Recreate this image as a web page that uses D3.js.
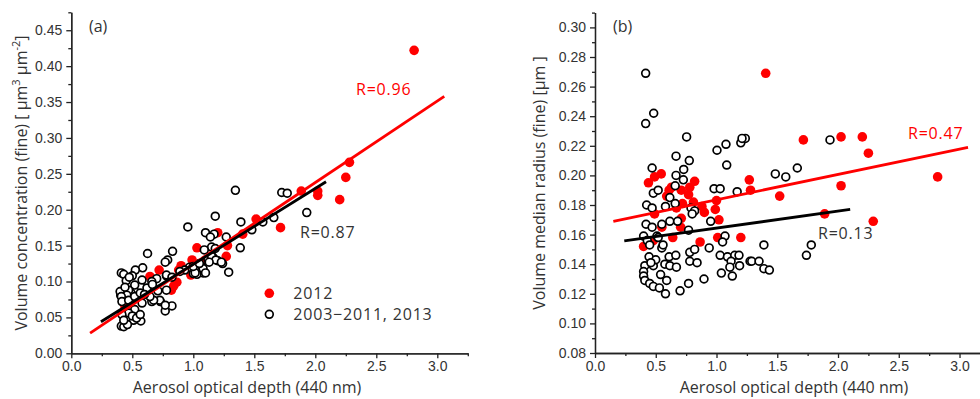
<!DOCTYPE html>
<html>
<head>
<meta charset="utf-8">
<script src="https://cdn.jsdelivr.net/npm/d3@7"></script>
<style>
  body { margin: 0; background: #fff; }
  svg text { font-family: "Open Sans", sans-serif; fill: #333; }
  .tick text { font-family: "Liberation Sans", Arial, sans-serif; font-size: 14px; fill: #333; }
  .domain, .tick line { stroke: #222; stroke-width: 1.3; }
</style>
</head>
<body>
<div id="chart"></div>
<script>
// ---- shared axis ticks ----
const xTicks = [0, 0.5, 1.0, 1.5, 2.0, 2.5, 3.0];
const xMinor = [0.25, 0.75, 1.25, 1.75, 2.25, 2.75, 3.25];
const yTicksA = [0, 0.05, 0.10, 0.15, 0.20, 0.25, 0.30, 0.35, 0.40, 0.45];
const yMinorA = [0.025, 0.075, 0.125, 0.175, 0.225, 0.275, 0.325, 0.375, 0.425, 0.475];
const yTicksB = [0.08, 0.10, 0.12, 0.14, 0.16, 0.18, 0.20, 0.22, 0.24, 0.26, 0.28, 0.30];
const yMinorB = [0.09, 0.11, 0.13, 0.15, 0.17, 0.19, 0.21, 0.23, 0.25, 0.27, 0.29, 0.31];

// ---- panel (a): AOD vs fine volume concentration ----
const red2012A = [
  [2.81, 0.422], [2.28, 0.266], [2.25, 0.245], [2.20, 0.214], [2.02, 0.226], [2.02, 0.220],
  [1.885, 0.226], [1.715, 0.175], [1.515, 0.187], [1.405, 0.166], [1.28, 0.150], [1.27, 0.135],
  [1.20, 0.168], [1.03, 0.147], [0.99, 0.130], [0.90, 0.122], [0.88, 0.116], [0.98, 0.109],
  [0.865, 0.099], [0.82, 0.088], [0.72, 0.116], [0.645, 0.107], [0.84, 0.094], [1.10, 0.130],
  [0.60, 0.090], [0.50, 0.075], [0.44, 0.065]
];
const otherYearsA = [
  [1.345, 0.227], [1.725, 0.224], [1.77, 0.223], [1.93, 0.196], [1.66, 0.189], [1.57, 0.183],
  [1.48, 0.172], [1.39, 0.183], [1.385, 0.147], [1.29, 0.113], [1.27, 0.162], [1.24, 0.125],
  [1.18, 0.191], [1.17, 0.166], [1.10, 0.168], [1.14, 0.162], [1.15, 0.148], [1.09, 0.144],
  [1.07, 0.121], [1.08, 0.112], [1.03, 0.110], [1.00, 0.111], [0.955, 0.176], [1.16, 0.134],
  [1.20, 0.129], [1.12, 0.131], [0.97, 0.120], [0.83, 0.142], [0.79, 0.130], [0.77, 0.127],
  [0.78, 0.108], [0.78, 0.088], [0.77, 0.059], [0.825, 0.066], [0.73, 0.072], [0.625, 0.139],
  [0.585, 0.119], [0.525, 0.116], [0.50, 0.108], [0.41, 0.112], [0.43, 0.110], [0.45, 0.101],
  [0.57, 0.093], [0.70, 0.104], [0.66, 0.100], [0.66, 0.093], [0.66, 0.072], [0.57, 0.045],
  [0.51, 0.046], [0.41, 0.038], [0.43, 0.037], [0.46, 0.040], [0.405, 0.081], [0.49, 0.084],
  [0.93, 0.116], [1.015, 0.112], [1.08, 0.118], [1.10, 0.112], [1.15, 0.135], [1.185, 0.130],
  [1.23, 0.127], [1.18, 0.146], [0.475, 0.106], [0.52, 0.095], [0.58, 0.102], [0.78, 0.109],
  [0.47, 0.088], [0.455, 0.081], [0.40, 0.086], [0.41, 0.079], [0.415, 0.072], [0.47, 0.074],
  [0.52, 0.079], [0.565, 0.084], [0.62, 0.091], [0.665, 0.096], [0.71, 0.087], [0.725, 0.074],
  [0.77, 0.067], [0.58, 0.070], [0.52, 0.061], [0.47, 0.056], [0.415, 0.054], [0.43, 0.046],
  [0.50, 0.052], [0.535, 0.049], [0.565, 0.054], [0.675, 0.074], [0.645, 0.079], [0.825, 0.106],
  [0.89, 0.114], [1.00, 0.121], [1.05, 0.125], [1.13, 0.127], [0.60, 0.082], [0.44, 0.092]
];
const fitRedA = [[0.154, 0.028], [3.057, 0.358]];
const fitBlackA = [[0.243, 0.044], [2.088, 0.239]];

// ---- panel (b): AOD vs fine volume median radius ----
const red2012B = [
  [1.405, 0.269], [1.715, 0.224], [2.025, 0.226], [2.20, 0.226], [2.25, 0.215], [2.82, 0.199],
  [2.025, 0.193], [2.29, 0.169], [1.89, 0.174], [1.52, 0.186], [1.27, 0.197], [1.28, 0.190],
  [1.20, 0.158], [1.01, 0.158], [1.00, 0.183], [0.99, 0.177], [1.02, 0.170], [0.865, 0.155],
  [0.90, 0.175], [0.88, 0.179], [0.82, 0.196], [0.64, 0.158], [0.705, 0.165], [0.71, 0.171],
  [0.545, 0.201], [0.49, 0.199], [0.44, 0.195], [0.40, 0.152], [0.55, 0.165], [0.61, 0.190],
  [0.63, 0.192], [0.71, 0.190], [0.78, 0.192], [0.77, 0.187], [0.81, 0.182], [0.59, 0.186],
  [0.67, 0.178], [0.72, 0.181], [0.49, 0.174], [0.48, 0.156]
];
const otherYearsB = [
  [0.417, 0.269], [0.483, 0.242], [0.417, 0.235], [0.754, 0.226], [0.667, 0.213], [0.776, 0.210],
  [0.73, 0.204], [0.47, 0.205], [1.004, 0.217], [1.078, 0.221], [1.084, 0.207], [1.20, 0.222],
  [1.237, 0.225], [1.21, 0.225], [1.934, 0.224], [1.665, 0.205], [1.57, 0.199], [1.484, 0.201],
  [0.667, 0.200], [0.727, 0.197], [0.66, 0.193], [0.98, 0.191], [1.03, 0.191], [1.17, 0.189],
  [0.48, 0.188], [0.52, 0.190], [0.425, 0.180], [0.47, 0.178], [0.58, 0.179], [0.616, 0.185],
  [0.66, 0.181], [0.79, 0.178], [0.82, 0.176], [0.80, 0.174], [0.952, 0.169], [0.42, 0.167],
  [0.47, 0.165], [0.55, 0.167], [0.616, 0.169], [0.68, 0.169], [0.77, 0.163], [1.07, 0.159],
  [1.05, 0.155], [0.40, 0.159], [0.51, 0.159], [0.43, 0.156], [0.45, 0.153], [0.55, 0.151],
  [0.56, 0.153], [0.78, 0.148], [0.82, 0.150], [0.94, 0.151], [1.39, 0.153], [1.78, 0.153],
  [1.74, 0.146], [0.445, 0.145], [0.61, 0.145], [0.665, 0.146], [1.03, 0.146], [1.09, 0.145],
  [1.15, 0.146], [1.185, 0.146], [1.276, 0.142], [1.29, 0.142], [1.35, 0.142], [1.39, 0.137],
  [1.435, 0.136], [0.78, 0.142], [0.84, 0.141], [0.41, 0.139], [0.48, 0.139], [0.575, 0.140],
  [0.616, 0.139], [0.67, 0.138], [1.12, 0.142], [1.11, 0.138], [1.19, 0.139], [0.40, 0.135],
  [0.54, 0.133], [1.04, 0.134], [1.13, 0.132], [0.897, 0.130], [0.40, 0.132], [0.41, 0.129],
  [0.45, 0.127], [0.48, 0.125], [0.53, 0.124], [0.59, 0.129], [0.58, 0.120], [0.70, 0.122],
  [0.77, 0.127], [0.50, 0.143], [0.46, 0.141], [0.52, 0.158]
];
const fitRedB = [[0.151, 0.169], [3.07, 0.219]];
const fitBlackB = [[0.241, 0.1557], [2.10, 0.177]];

const W = 980, H = 399;
const svg = d3.select('#chart').append('svg')
  .attr('width', W)
  .attr('height', H);

function drawPanel(p) {
  const x = d3.scaleLinear().domain([0, 3.25]).range(p.xRange);
  const y = d3.scaleLinear().domain(p.yDomain).range(p.yRange);
  const g = svg.append('g');
  const y0 = p.yRange[0], x0 = p.xRange[0];

  // axes: minor first, then major with labels
  g.append('g').attr('transform', 'translate(0,' + y0 + ')')
    .call(d3.axisBottom(x).tickValues(xMinor).tickSize(3).tickSizeOuter(0).tickFormat(''));
  g.append('g').attr('transform', 'translate(0,' + y0 + ')')
    .call(d3.axisBottom(x).tickValues(xTicks).tickSize(5).tickPadding(3).tickSizeOuter(0)
      .tickFormat(d3.format('.1f')));
  g.append('g').attr('transform', 'translate(' + x0 + ',0)')
    .call(d3.axisLeft(y).tickValues(p.yMinor).tickSize(3).tickSizeOuter(0).tickFormat(''));
  g.append('g').attr('transform', 'translate(' + x0 + ',0)')
    .call(d3.axisLeft(y).tickValues(p.yTicks).tickSize(5).tickPadding(4).tickSizeOuter(0)
      .tickFormat(d3.format('.2f')));

  // points: 2012 filled red under open black circles
  g.append('g').selectAll('circle').data(p.red).enter().append('circle')
    .attr('cx', d => x(d[0])).attr('cy', d => y(d[1]))
    .attr('r', 4.8).attr('fill', '#ff0000');
  g.append('g').selectAll('circle').data(p.black).enter().append('circle')
    .attr('cx', d => x(d[0])).attr('cy', d => y(d[1]))
    .attr('r', 3.9).attr('fill', '#fff').attr('stroke', '#000').attr('stroke-width', 1.7);

  const line = d3.line().x(d => x(d[0])).y(d => y(d[1]));
  g.append('path').attr('d', line(p.fitRed))
    .attr('stroke', '#ff0000').attr('stroke-width', 2.8).attr('fill', 'none');
  g.append('path').attr('d', line(p.fitBlack))
    .attr('stroke', '#000').attr('stroke-width', 2.8).attr('fill', 'none');

  // labels
  g.append('text').attr('x', p.tag[0]).attr('y', p.tag[1])
    .style('font-size', '16px').text(p.tagText);
  g.append('text').attr('x', p.rRed[0]).attr('y', p.rRed[1])
    .style('font-size', '16px').style('letter-spacing', '0.8px').style('fill', '#ff0000')
    .text(p.rRedText);
  g.append('text').attr('x', p.rBlack[0]).attr('y', p.rBlack[1])
    .style('font-size', '16px').style('letter-spacing', '0.8px')
    .text(p.rBlackText);

  g.append('text').attr('x', p.xTitle[0]).attr('y', p.xTitle[1])
    .attr('text-anchor', 'middle').style('font-size', '16px').text(p.xTitleText);
  const yt = g.append('text')
    .attr('transform', 'translate(' + p.yTitle[0] + ',' + p.yTitle[1] + ') rotate(-90)')
    .attr('text-anchor', 'middle').style('font-size', '16px');
  p.yTitleParts.forEach(part => {
    const t = yt.append('tspan').text(part.t);
    if (part.sup) t.attr('baseline-shift', 'super').style('font-size', '11px');
  });
  return { x, y };
}

drawPanel({
  xRange: [71.3, 467.8], yDomain: [0, 0.475], yRange: [353.3, 12.3],
  yTicks: yTicksA, yMinor: yMinorA,
  red: red2012A, black: otherYearsA, fitRed: fitRedA, fitBlack: fitBlackA,
  tag: [89, 32], tagText: '(a)',
  rRed: [356, 95], rRedText: 'R=0.96',
  rBlack: [300, 238], rBlackText: 'R=0.87',
  xTitle: [247, 393], xTitleText: 'Aerosol optical depth (440 nm)',
  yTitle: [27, 183],
  yTitleParts: [{ t: 'Volume concentration (fine) [ μm' }, { t: '3', sup: true },
    { t: ' μm' }, { t: '-2', sup: true }, { t: ']' }]
});

drawPanel({
  xRange: [595, 989.9], yDomain: [0.08, 0.31], yRange: [353, 12.6],
  yTicks: yTicksB, yMinor: yMinorB,
  red: red2012B, black: otherYearsB, fitRed: fitRedB, fitBlack: fitBlackB,
  tag: [613, 32], tagText: '(b)',
  rRed: [908, 139], rRedText: 'R=0.47',
  rBlack: [818, 239], rBlackText: 'R=0.13',
  xTitle: [794, 393], xTitleText: 'Aerosol optical  depth (440 nm)',
  yTitle: [545, 183],
  yTitleParts: [{ t: 'Volume median radius (fine)  [μm ]' }]
});

// legend (panel a)
const legend = svg.append('g').attr('transform', 'translate(269.3,293.3)');
legend.append('circle').attr('cx', 0).attr('cy', 0).attr('r', 4.8).attr('fill', '#ff0000');
legend.append('circle').attr('cx', 0).attr('cy', 21).attr('r', 3.9)
  .attr('fill', '#fff').attr('stroke', '#000').attr('stroke-width', 1.7);
legend.append('text').attr('x', 24).attr('y', 6).style('font-size', '16px')
  .style('letter-spacing', '0.8px').text('2012');
legend.append('text').attr('x', 24).attr('y', 27).style('font-size', '16px')
  .style('letter-spacing', '0.8px').text('2003\u22122011, 2013');
</script>
</body>
</html>
